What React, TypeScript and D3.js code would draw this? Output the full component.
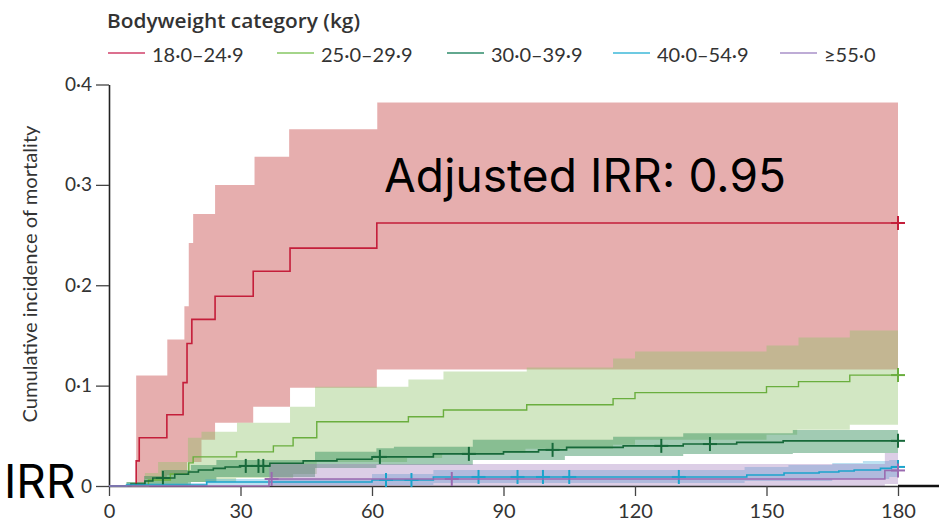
import React, { useRef, useEffect } from "react";
import * as d3 from "d3";

// bodyweight groups (kg)
const groups = ["18·0–24·9", "25·0–29·9", "30·0–39·9", "40·0–54·9", "≥55·0"];

// [day, cumulative incidence] step points
const est18 = [[0, 0], [6.2, 0.025], [6.9, 0.048], [13.2, 0.071], [16.9, 0.103], [17.8, 0.142], [18.9, 0.166], [24.2, 0.189], [32.9, 0.214], [41.3, 0.237], [61.1, 0.262]];
const hi18 = [[6.2, 0.11], [13.3, 0.146], [17.2, 0.179], [18.2, 0.242], [19.2, 0.271], [24.2, 0.3], [33.2, 0.328], [41.1, 0.3555], [61.2, 0.382]];
const lo18 = [[6.2, 0.001], [8.2, 0.007], [13.2, 0.011], [17.8, 0.024], [21.1, 0.046], [24.2, 0.063], [32.9, 0.079], [41.3, 0.098], [61.1, 0.116]];
const cens18 = [180];

const est25 = [[0, 0], [9, 0.006], [14, 0.012], [18.2, 0.023], [19.2, 0.029], [29.1, 0.034], [37.5, 0.04], [42, 0.048], [47.4, 0.064], [68.3, 0.069], [76.3, 0.0757], [95.3, 0.081], [115, 0.087], [120, 0.093], [150, 0.099], [157.3, 0.104], [169, 0.1105]];
const hi25 = [[4, 0.004], [8.2, 0.013], [11.2, 0.024], [18, 0.048], [21.1, 0.054], [29.2, 0.063], [41.3, 0.079], [47, 0.099], [68.3, 0.106], [76.3, 0.114], [95.3, 0.118], [115, 0.127], [120, 0.134], [150, 0.14], [157.3, 0.148], [169, 0.155]];
const lo25 = [[4, 0], [18, 0.004], [29, 0.008], [42, 0.012], [47.4, 0.024], [68, 0.028], [76, 0.033], [95, 0.037], [115, 0.041], [120, 0.046], [150, 0.051], [157, 0.056], [169, 0.061]];
const cens25 = [180];

const est30 = [[0, 0], [5, 0.002], [8.2, 0.005], [10, 0.008], [15, 0.0117], [18.1, 0.014], [20.4, 0.016], [23.8, 0.0176], [26.5, 0.019], [30, 0.02], [36.7, 0.0226], [44.3, 0.025], [52, 0.0266], [60, 0.029], [74, 0.032], [90, 0.034], [98, 0.036], [104.4, 0.0385], [117.3, 0.04], [131, 0.0418], [143.2, 0.0435], [153.8, 0.045]];
const hi30 = [[4, 0.004], [8, 0.01], [12, 0.016], [18.7, 0.021], [24.5, 0.026], [47, 0.034], [61, 0.0376], [65, 0.039], [83, 0.046], [115, 0.049], [131, 0.0525], [156, 0.0558]];
const lo30 = [[4, 0], [8, 0.001], [18.7, 0.004], [24.5, 0.009], [47, 0.018], [61, 0.021], [83, 0.026], [104, 0.03], [131, 0.032], [156, 0.033]];
const cens30 = [12.3, 31.2, 34.1, 35.2, 61.8, 82.1, 101.2, 126, 137.1, 180];

const est40 = [[0, 0], [4, 0.001], [22.3, 0.004], [60, 0.006], [74, 0.009], [145.5, 0.011], [154, 0.013], [162, 0.014], [166.5, 0.015], [170, 0.016], [176, 0.0176], [178.5, 0.019]];
const hi40 = [[4, 0.003], [22, 0.007], [60, 0.012], [74, 0.016], [145, 0.019], [155, 0.021], [165, 0.023], [172, 0.025], [178, 0.026]];
const lo40 = [[4, 0], [22, 0.001], [74, 0.003], [145, 0.005], [165, 0.007], [178, 0.009]];
const cens40 = [63.2, 69, 84.3, 93.2, 99, 105, 130, 180];

const est55 = [[0, 0], [36.5, 0.007], [177, 0.0155]];
const hi55 = [[36.5, 0.022], [177, 0.033]];
const lo55 = [[36.5, 0], [177, 0.002]];
const cens55 = [37.1, 78.2, 180];

const xTicks = [0, 30, 60, 90, 120, 150, 180];
const yTicks = [0, 0.1, 0.2, 0.3, 0.4];

const lineColors = ["#c41e3a", "#6aae3e", "#17693a", "#1ba4cc", "#9a6ab0"];
const bandColors = ["#c84b4b", "#8fc46a", "#2e8b57", "#3fa9d8", "#9b72b8"];
const bandOpacity = [0.45, 0.4, 0.45, 0.35, 0.35];
const legendColors = ["#d0406a", "#86c763", "#2e8b6a", "#3cb8d8", "#a890c8"];

const font = "Lato, 'Open Sans', sans-serif";

function stepVal(pts, t) {
    let v = pts[0][1];
    for (const [d, val] of pts) {
        if (d <= t) v = val;
        else break;
    }
    return v;
}

function App() {
    const svgRef = useRef(null);

    useEffect(() => {
        const width = 939;
        const height = 521;
        const svg = d3.select(svgRef.current);
        svg.selectAll("*").remove();
        svg.attr("width", width).attr("height", height);

        const x = d3.scaleLinear().domain([0, 180]).range([109, 898]);
        const y = d3.scaleLinear().domain([0, 0.4]).range([486, 84.5]);

        const series = [
            { est: est18, hi: hi18, lo: lo18, cens: cens18 },
            { est: est25, hi: hi25, lo: lo25, cens: cens25 },
            { est: est30, hi: hi30, lo: lo30, cens: cens30 },
            { est: est40, hi: hi40, lo: lo40, cens: cens40 },
            { est: est55, hi: hi55, lo: lo55, cens: cens55 },
        ];

        const area = d3.area()
            .curve(d3.curveStepAfter)
            .x((d) => x(d.t))
            .y0((d) => y(d.lo))
            .y1((d) => y(d.hi));

        const line = d3.line()
            .curve(d3.curveStepAfter)
            .x((d) => x(d[0]))
            .y((d) => y(d[1]));

        // confidence bands
        series.forEach((s, i) => {
            const start = Math.max(s.hi[0][0], s.lo[0][0]);
            const times = Array.from(new Set([...s.hi, ...s.lo].map((p) => p[0])))
                .filter((t) => t >= start)
                .sort((a, b) => a - b);
            const rows = times.map((t) => ({ t, lo: stepVal(s.lo, t), hi: stepVal(s.hi, t) }));
            const last = rows[rows.length - 1];
            rows.push({ t: 180, lo: last.lo, hi: last.hi });
            svg.append("path")
                .attr("d", area(rows))
                .attr("fill", bandColors[i])
                .attr("fill-opacity", bandOpacity[i]);
        });

        // axes
        const xAxis = svg.append("g")
            .attr("transform", `translate(0,${y(0)})`)
            .call(d3.axisBottom(x).tickValues(xTicks).tickSize(10).tickSizeOuter(0).tickPadding(8));
        xAxis.select(".domain").attr("stroke", "#333").attr("stroke-width", 1.5);
        xAxis.selectAll(".tick line").attr("stroke", "#444").attr("stroke-width", 1.3);
        xAxis.selectAll("text")
            .attr("fill", "#333")
            .style("font-family", font)
            .style("font-size", "20px");

        svg.append("line")
            .attr("x1", x(180)).attr("x2", width)
            .attr("y1", y(0)).attr("y2", y(0))
            .attr("stroke", "#111").attr("stroke-width", 2.5);

        const yAxis = svg.append("g")
            .attr("transform", `translate(${x(0)},0)`)
            .call(d3.axisLeft(y).tickValues(yTicks).tickSize(13).tickSizeOuter(0).tickPadding(4)
                .tickFormat((d) => (d === 0 ? "0" : d3.format(".1f")(d).replace(".", "·"))));
        yAxis.select(".domain").attr("stroke", "#222").attr("stroke-width", 1.6);
        yAxis.selectAll(".tick line").attr("stroke", "#444").attr("stroke-width", 1.3);
        yAxis.selectAll("text")
            .attr("fill", "#333")
            .style("font-family", font)
            .style("font-size", "19px");

        // estimate lines and censor marks
        series.forEach((s, i) => {
            const pts = [...s.est, [180, s.est[s.est.length - 1][1]]];
            svg.append("path")
                .attr("d", line(pts))
                .attr("fill", "none")
                .attr("stroke", lineColors[i])
                .attr("stroke-width", i === 1 ? 1.4 : 1.6);
            const g = svg.append("g").attr("stroke", lineColors[i]).attr("stroke-width", 2);
            s.cens.forEach((c) => {
                const cx = x(c);
                const cy = y(stepVal(s.est, c));
                g.append("line").attr("x1", cx - 7).attr("x2", cx + 7).attr("y1", cy).attr("y2", cy);
                g.append("line").attr("x1", cx).attr("x2", cx).attr("y1", cy - 7).attr("y2", cy + 7);
            });
        });

        // y title
        svg.append("text")
            .attr("transform", "translate(37,274) rotate(-90)")
            .attr("text-anchor", "middle")
            .attr("fill", "#333")
            .attr("textLength", 297)
            .attr("lengthAdjust", "spacingAndGlyphs")
            .style("font-family", font)
            .style("font-size", "20px")
            .text("Cumulative incidence of mortality");

        // legend
        svg.append("text")
            .attr("x", 107)
            .attr("y", 28)
            .attr("fill", "#333")
            .attr("textLength", 253)
            .attr("lengthAdjust", "spacingAndGlyphs")
            .style("font-family", "'Open Sans', Lato, sans-serif")
            .style("font-weight", 600)
            .style("font-size", "19px")
            .text("Bodyweight category (kg)");

        const legendX = [108, 277, 447, 613, 780];
        groups.forEach((gname, i) => {
            const lg = svg.append("g").attr("transform", `translate(${legendX[i]},53)`);
            lg.append("line")
                .attr("x1", 0).attr("x2", 37)
                .attr("stroke", legendColors[i]).attr("stroke-width", 1.6);
            lg.append("text")
                .attr("x", 44)
                .attr("y", 9)
                .attr("fill", "#333")
                .style("font-family", font)
                .style("font-size", "20px")
                .text(gname);
        });

        // overlaid annotations
        svg.append("text")
            .attr("x", 384)
            .attr("y", 192)
            .attr("fill", "#000")
            .attr("textLength", 402)
            .attr("lengthAdjust", "spacing")
            .style("font-family", "Inter, 'Noto Sans', sans-serif")
            .style("font-size", "46px")
            .text("Adjusted IRR: 0.95");

        svg.append("text")
            .attr("x", 4)
            .attr("y", 498)
            .attr("fill", "#000")
            .style("font-family", "Inter, 'Noto Sans', sans-serif")
            .style("font-size", "46px")
            .text("IRR");
    }, []);

    return (
        <div style={{ position: "absolute", left: 0, top: 0 }}>
            <svg ref={svgRef}></svg>
        </div>
    );
}

export default App;
